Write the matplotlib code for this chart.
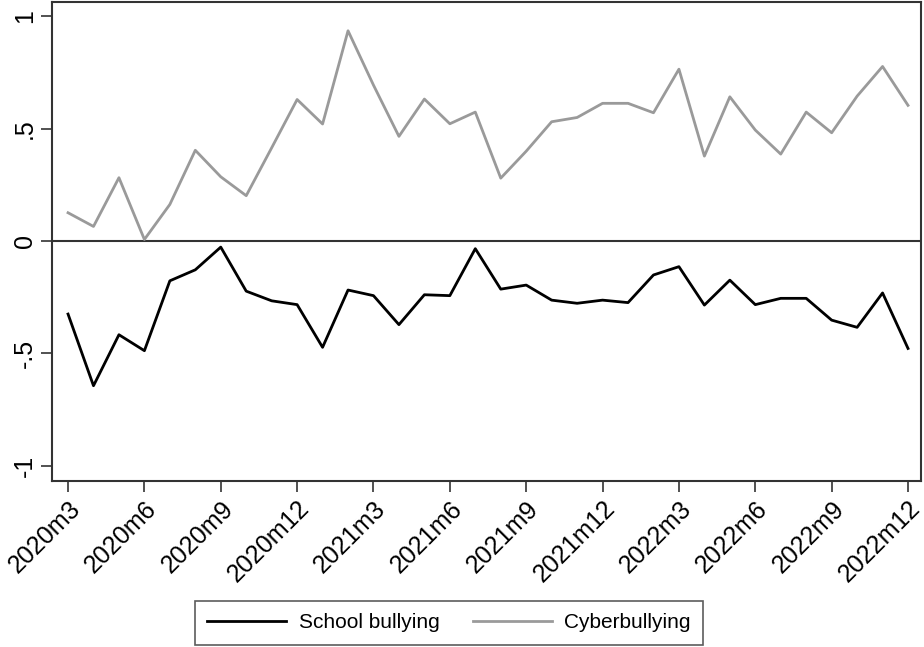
import matplotlib
matplotlib.use("Agg")
import matplotlib.pyplot as plt
import numpy as np

plt.rcParams['font.family'] = ['Liberation Sans', 'DejaVu Sans']

# monthly series, 2020m3 .. 2022m12
months = [f"{y}m{m}" for y in (2020, 2021, 2022) for m in range(1, 13)][2:]
school = [-0.325, -0.644, -0.417, -0.488, -0.177, -0.128, -0.027, -0.223, -0.266, -0.283,
          -0.473, -0.218, -0.243, -0.372, -0.239, -0.243, -0.034, -0.214, -0.196, -0.263,
          -0.277, -0.263, -0.274, -0.151, -0.114, -0.285, -0.174, -0.283, -0.255, -0.255,
          -0.352, -0.384, -0.231, -0.478]
cyber = [0.126, 0.065, 0.282, 0.007, 0.163, 0.404, 0.286, 0.202, 0.415, 0.630,
         0.521, 0.936, 0.694, 0.466, 0.632, 0.522, 0.574, 0.280, 0.400, 0.531,
         0.550, 0.613, 0.613, 0.571, 0.765, 0.378, 0.642, 0.494, 0.387, 0.574,
         0.482, 0.645, 0.777, 0.604]
yticks = [-1, -0.5, 0, 0.5, 1]
ytick_labels = ["-1", "-.5", "0", ".5", "1"]

x = np.arange(len(months))

fig = plt.figure(figsize=(9.24, 6.47), dpi=100)
ax = fig.add_axes([52 / 924, 166 / 647, 869 / 924, 479 / 647])

ax.axhline(0, color="#333333", lw=1.5, zorder=1)
l1, = ax.plot(x, school, color="black", lw=2, label="School bullying")
l2, = ax.plot(x, cyber, color="#9a9a9a", lw=2, label="Cyberbullying")

ax.set_xlim(-0.63, 33.51)
ax.set_ylim(-1.068, 1.064)

ax.set_yticks(yticks)
ax.set_yticklabels(ytick_labels, rotation=90, va="center")
ax.set_xticks(x[::3])
ax.set_xticklabels(months[::3], rotation=45, ha="right", rotation_mode="anchor")

ax.tick_params(axis="both", direction="out", length=8, width=1.2, color="#333333",
               labelsize=18, pad=3)
for s in ax.spines.values():
    s.set_color("#333333")
    s.set_linewidth(1.5)

leg = fig.legend(handles=[l1, l2], loc="lower center", bbox_to_anchor=(449 / 924, 2 / 647),
                 ncol=2, fontsize=15, frameon=True, fancybox=False, edgecolor="#333333",
                 handlelength=3.8, handletextpad=0.6, columnspacing=1.6,
                 borderpad=0.6, borderaxespad=0)
leg.get_frame().set_linewidth(1.2)

fig.savefig("out.png", dpi=100)
